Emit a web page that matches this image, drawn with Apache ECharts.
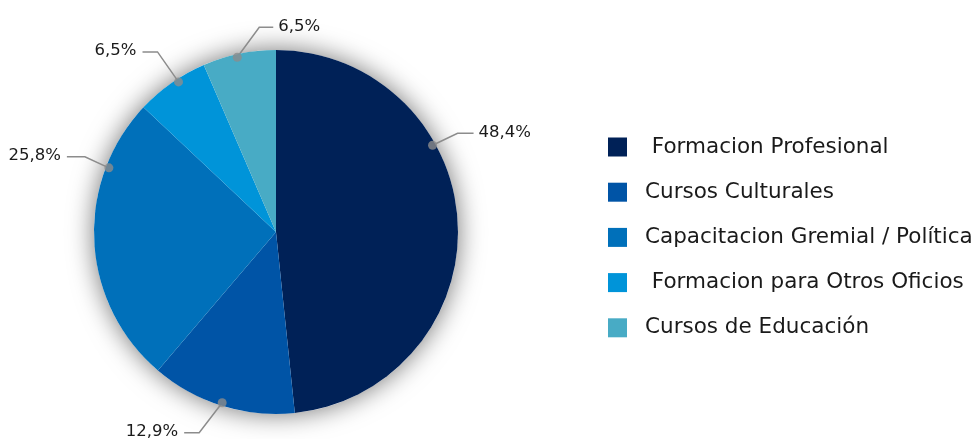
<!DOCTYPE html>
<html>
<head>
<meta charset="utf-8">
<script src="https://cdn.jsdelivr.net/npm/echarts@6/dist/echarts.min.js"></script>
<style>
  html, body { margin: 0; padding: 0; background: #fff; }
  #chart { width: 979px; height: 439px; }
</style>
</head>
<body>
<div id="chart"></div>
<script>
// Categories and their shares (%)
const categories = [
  ' Formacion Profesional',
  'Cursos Culturales',
  'Capacitacion Gremial / Política',
  ' Formacion para Otros Oficios',
  'Cursos de Educación'
];
const shares = [48.4, 12.9, 25.8, 6.5, 6.5];
const colors = ['#002157', '#0054a6', '#0070ba', '#0094d9', '#48abc5'];

// Pie geometry
const CX = 276, CY = 232, R = 182, DOT_R = 179;
const FONT = 'DejaVu Sans';

// Callout styling for each slice: attachment angle (deg clockwise from 12 o'clock),
// offset of the elbow from the attachment point, and length of the horizontal run.
const callouts = [
  { angle: 61,    elbow: [25, -12], run: 16 },
  { angle: 197.5, elbow: [-23, 30], run: -15 },
  { angle: 291,   elbow: [-24, -11], run: -18 },
  { angle: 327,   elbow: [-21, -30], run: -15 },
  { angle: 347.5, elbow: [22, -30],  run: 14 }
];

function anchor(i) {
  const a = callouts[i].angle * Math.PI / 180;
  return [CX + DOT_R * Math.sin(a), CY - DOT_R * Math.cos(a)];
}

const chart = echarts.init(document.getElementById('chart'), null, { renderer: 'canvas' });

chart.setOption({
  animation: false,
  backgroundColor: '#ffffff',
  color: colors,
  polar: { center: [CX, CY], radius: DOT_R },
  angleAxis: { type: 'value', min: 0, max: 360, startAngle: 90, clockwise: true, show: false },
  radiusAxis: { type: 'value', min: 0, max: 1, show: false },
  legend: {
    orient: 'vertical',
    left: 608,
    top: 136,
    padding: 0,
    itemWidth: 19,
    itemHeight: 19,
    itemGap: 23.2,
    icon: 'rect',
    selectedMode: false,
    textStyle: { fontFamily: FONT, fontSize: 21.5, color: '#1a1a1a', lineHeight: 19, padding: [0, 0, 0, 13] },
    data: categories
  },
  series: [
    {
      // soft shadow disc behind the pie
      type: 'pie',
      silent: true,
      center: [CX, CY],
      radius: R,
      label: { show: false },
      labelLine: { show: false },
      itemStyle: { color: '#ffffff', shadowBlur: 26, shadowColor: 'rgba(0,0,0,0.55)' },
      data: [{ value: 1, name: '' }],
      z: 1
    },
    {
      type: 'pie',
      center: [CX, CY],
      radius: R,
      startAngle: 90,
      clockwise: true,
      silent: true,
      z: 2,
      data: categories.map((c, i) => ({ name: c, value: shares[i] })),
      label: {
        show: true,
        position: 'outside',
        overflow: 'none',
        fontFamily: FONT,
        fontSize: 16.5,
        color: '#1a1a1a',
        formatter: p => p.value.toFixed(1).replace('.', ',') + '%'
      },
      labelLine: { show: true, lineStyle: { color: '#8c8c8c', width: 1.5 } },
      labelLayout: function (p) {
        const i = p.dataIndex;
        const c = callouts[i];
        const d = anchor(i);
        const e = [d[0] + c.elbow[0], d[1] + c.elbow[1]];
        const end = [e[0] + c.run, e[1]];
        const right = c.run > 0;
        return {
          x: end[0] + (right ? 5 : -6),
          y: end[1] - 1,
          align: right ? 'left' : 'right',
          verticalAlign: 'middle',
          labelLinePoints: [d, e, end]
        };
      }
    },
    {
      // attachment dots of the callouts
      type: 'scatter',
      coordinateSystem: 'polar',
      symbol: 'circle',
      symbolSize: 9,
      silent: true,
      z: 5,
      itemStyle: { color: '#8c8c8c' },
      data: callouts.map(c => [1, c.angle])
    }
  ]
});
</script>
</body>
</html>
